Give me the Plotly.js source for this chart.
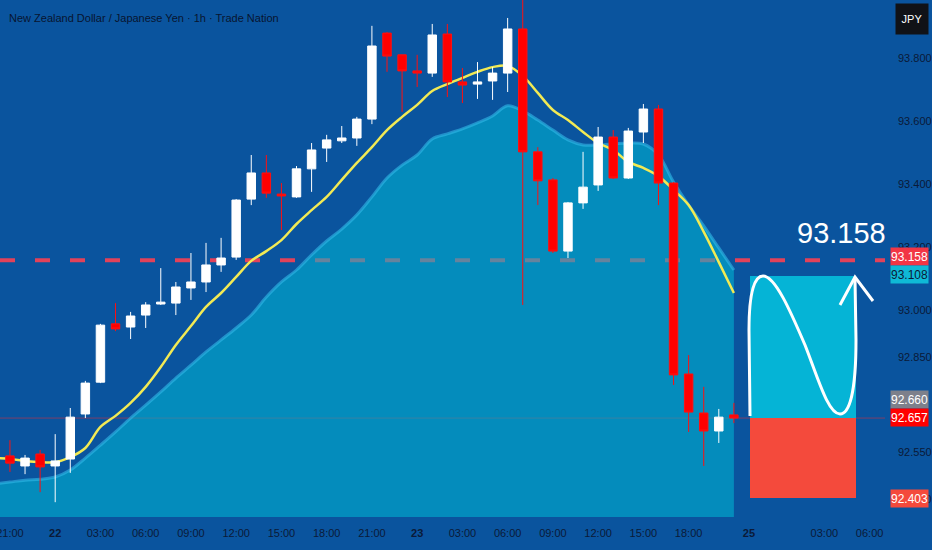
<!DOCTYPE html>
<html>
<head>
<meta charset="utf-8">
<script src="https://cdn.plot.ly/plotly-3.0.1.min.js"></script>
<style>html,body{margin:0;padding:0;background:#0a549e;}#chart{width:932px;height:550px;}</style>
</head>
<body>
<div id="chart"></div>
<script>
// ---- data ----
const barIndex = [0,1,2,3,4,5,6,7,8,9,10,11,12,13,14,15,16,17,18,19,20,21,22,23,24,25,26,27,28,29,30,31,32,33,34,35,36,37,38,39,40,41,42,43,44,45,46,47,48];
const openP  = [92.537,92.505,92.543,92.505,92.527,92.670,92.771,92.956,92.946,92.984,93.019,93.022,93.070,93.089,93.143,93.168,93.352,93.435,93.368,93.359,93.448,93.514,93.537,93.546,93.606,93.879,93.810,93.759,93.752,93.876,93.724,93.717,93.727,93.752,93.892,93.502,93.413,93.187,93.340,93.397,93.549,93.419,93.565,93.638,93.403,92.797,92.673,92.616,92.667];
const highP  = [92.587,92.540,92.556,92.606,92.689,92.775,92.956,93.022,92.994,93.025,93.133,93.089,93.181,93.213,93.229,93.352,93.492,93.492,93.403,93.457,93.530,93.556,93.584,93.613,93.902,93.882,93.810,93.810,93.908,93.908,93.768,93.787,93.771,93.927,94.000,93.517,93.419,93.343,93.502,93.581,93.571,93.578,93.654,93.651,93.406,92.857,92.756,92.686,92.705];
const lowP   = [92.486,92.479,92.422,92.390,92.483,92.657,92.768,92.933,92.908,92.943,93.016,92.984,93.032,93.057,93.121,93.159,93.333,93.356,93.254,93.356,93.375,93.470,93.530,93.521,93.590,93.756,93.629,93.708,93.740,93.676,93.657,93.670,93.667,93.692,93.016,93.333,93.181,93.165,93.321,93.378,93.416,93.416,93.530,93.333,92.762,92.613,92.505,92.578,92.641];
const closeP = [92.514,92.530,92.502,92.521,92.660,92.768,92.952,92.940,92.981,93.016,93.025,93.073,93.089,93.143,93.165,93.349,93.435,93.371,93.362,93.448,93.508,93.540,93.546,93.606,93.838,93.806,93.759,93.752,93.873,93.724,93.714,93.724,93.752,93.892,93.502,93.410,93.187,93.340,93.390,93.549,93.419,93.568,93.638,93.403,92.794,92.676,92.616,92.660,92.657];

const emaX = [-1,0,1,2,3,4,5,6,7,8,9,10,11,12,13,14,15,16,17,18,19,20,21,22,23,24,25,26,27,28,29,30,31,32,33,34,35,36,37,38,39,40,41,42,43,44,45,46,47,48];
const emaP = [92.530,92.527,92.521,92.517,92.517,92.533,92.562,92.629,92.664,92.705,92.756,92.819,92.889,92.949,93.010,93.054,93.105,93.156,93.187,93.222,93.273,93.317,93.359,93.413,93.467,93.517,93.571,93.613,93.651,93.695,93.717,93.737,93.756,93.771,93.775,93.743,93.689,93.635,93.603,93.565,93.530,93.508,93.470,93.451,93.425,93.381,93.333,93.248,93.152,93.054];

const cloudX = emaX;
const cloudP = [92.448,92.454,92.460,92.463,92.470,92.492,92.530,92.571,92.613,92.657,92.698,92.740,92.784,92.825,92.867,92.905,92.943,92.984,93.041,93.089,93.127,93.175,93.219,93.257,93.302,93.359,93.419,93.460,93.492,93.543,93.559,93.575,93.594,93.616,93.648,93.632,93.603,93.571,93.540,93.524,93.524,93.527,93.530,93.527,93.492,93.406,93.333,93.267,93.197,93.127];

const xTickVals = [0,3,6,9,12,15,18,21,24,27,30,33,36,39,42,45,49,54,57];
const xTickText = ["21:00","<b>22</b>","03:00","06:00","09:00","12:00","15:00","18:00","21:00","<b>23</b>","03:00","06:00","09:00","12:00","15:00","18:00","<b>25</b>","03:00","06:00"];
const yTickVals = [93.8,93.6,93.4,93.2,93.0,92.85,92.55,92.4];
const yTickText = ["93.800","93.600","93.400","93.200","93.000","92.850","92.550","92.400"];

const targetLevel = 93.158;
const takeProfit = 93.108;
const entryLevel = 92.657;
const stopLevel = 92.403;
const prevClose = 92.660;

// ---- drawing ----
const FONT = "Liberation Sans Narrow, Liberation Sans, Arial, sans-serif";
const BG = "#0a549e";
const PW = 885, PH = 517;
const XR = [-0.66, 58.02], YR = [92.343, 93.984];
function px(x){return (x/PW).toFixed(5);}
function py(y){return (1 - y/PH).toFixed(5);}
function P(x,y){return px(x)+","+py(y);}

const traces = [
  {type:"scatter", mode:"lines", x:cloudX, y:cloudP, fill:"tozeroy",
   fillcolor:"rgba(0,186,214,0.55)", line:{color:"rgba(50,185,232,0.6)", width:3, shape:"spline"}, hoverinfo:"skip"},
  {type:"scatter", mode:"lines", x:emaX, y:emaP,
   line:{color:"#f2ea54", width:2.5, shape:"spline"}, hoverinfo:"skip"},
  {type:"candlestick", xaxis:"x2", yaxis:"y2", x:barIndex, open:openP, high:highP, low:lowP, close:closeP,
   increasing:{line:{color:"#ffffff", width:1}, fillcolor:"#ffffff"},
   decreasing:{line:{color:"#ff1010", width:1}, fillcolor:"#ff0000"},
   whiskerwidth:0, hoverinfo:"skip"}
];

const sinePath = "M"+P(750,416)+" L"+P(749,330)+
  " C"+P(749,290)+" "+P(755,276)+" "+P(763,276)+
  " C"+P(775,276)+" "+P(790,310)+" "+P(805,345)+
  " C"+P(818,378)+" "+P(828,414)+" "+P(840,414)+
  " C"+P(852,414)+" "+P(856,380)+" "+P(856,340)+
  " L"+P(855,278);
const arrowPath = "M"+P(840,305)+" L"+P(855,277)+" L"+P(873,301);

const shapes = [
  {type:"line", layer:"below", xref:"paper", yref:"y", x0:0, x1:1, y0:targetLevel, y1:targetLevel,
   line:{color:"#e2425a", width:4, dash:"15px,20px"}},
  {type:"line", layer:"below", xref:"paper", yref:"y", x0:0, x1:1, y0:entryLevel, y1:entryLevel,
   line:{color:"rgba(200,50,70,0.6)", width:1}},
  {type:"rect", layer:"above", xref:"paper", yref:"y", x0:750/PW, x1:856/PW, y0:entryLevel, y1:takeProfit,
   fillcolor:"#05b4d6", line:{width:0}},
  {type:"rect", layer:"above", xref:"paper", yref:"y", x0:750/PW, x1:856/PW, y0:stopLevel, y1:entryLevel,
   fillcolor:"#f44a3c", line:{width:0}},
  {type:"path", layer:"above", xref:"paper", yref:"paper", path:sinePath, line:{color:"#ffffff", width:3}},
  {type:"path", layer:"above", xref:"paper", yref:"paper", path:arrowPath, line:{color:"#ffffff", width:3}}
];

function priceLabel(text, y, bg, fg, yshift){
  return {xref:"paper", yref:"y", x:1, y:y, xanchor:"left", yanchor:"middle", xshift:5, yshift:yshift||0,
    text:text, showarrow:false, bgcolor:bg, width:37, height:17, borderpad:0,
    font:{family:FONT, size:12, color:fg}};
}

const annotations = [
  {xref:"paper", yref:"paper", x:7/PW, y:1-18/PH, xanchor:"left", yanchor:"middle", showarrow:false,
   text:"New Zealand Dollar / Japanese Yen · 1h · Trade Nation", font:{family:FONT, size:11, color:"#081530"}},
  {xref:"paper", yref:"paper", x:1, y:1-19/PH, xanchor:"left", yanchor:"middle", xshift:10, showarrow:false,
   text:"JPY", bgcolor:"#101217", width:30, height:28, font:{family:FONT, size:11, color:"#ffffff"}},
  {xref:"paper", yref:"y", x:841/PW, y:targetLevel, xanchor:"center", yanchor:"middle", yshift:27, showarrow:false,
   text:"93.158", font:{family:FONT, size:29, color:"#ffffff"}},
  priceLabel(targetLevel.toFixed(3), targetLevel, "#f23645", "#ffffff", 4),
  priceLabel(takeProfit.toFixed(3), takeProfit, "#0fb9d6", "#0b1a38", 1),
  priceLabel(prevClose.toFixed(3), entryLevel, "#7d808b", "#ffffff", 19),
  priceLabel(entryLevel.toFixed(3), entryLevel, "#ff0000", "#ffffff", 1),
  priceLabel(stopLevel.toFixed(3), stopLevel, "#f44a3c", "#ffffff", 0)
];

const layout = {
  width:932, height:550,
  margin:{l:0, r:47, t:0, b:33},
  paper_bgcolor:BG, plot_bgcolor:BG,
  showlegend:false,
  font:{family:FONT, color:"#0b1a38"},
  xaxis:{range:XR, showgrid:false, zeroline:false, showline:false, ticks:"",
    tickmode:"array", tickvals:xTickVals, ticktext:xTickText, ticklabelstandoff:8, ticklabeloverflow:"allow",
    tickfont:{family:FONT, size:11, color:"#0b1a38"}, rangeslider:{visible:false}, fixedrange:true},
  yaxis:{range:YR, side:"right", showgrid:false, zeroline:false, showline:false, ticks:"",
    tickmode:"array", tickvals:yTickVals, ticktext:yTickText, ticklabelstandoff:12,
    tickfont:{family:FONT, size:11, color:"#0b1a38"}, fixedrange:true},
  xaxis2:{overlaying:"x", range:XR, visible:false, showgrid:false, zeroline:false, rangeslider:{visible:false}, fixedrange:true},
  yaxis2:{overlaying:"y", range:YR, visible:false, showgrid:false, zeroline:false, side:"right", fixedrange:true},
  boxgap:0.2,
  shapes:shapes,
  annotations:annotations
};

Plotly.newPlot("chart", traces, layout, {displayModeBar:false, staticPlot:true});
</script>
</body>
</html>
